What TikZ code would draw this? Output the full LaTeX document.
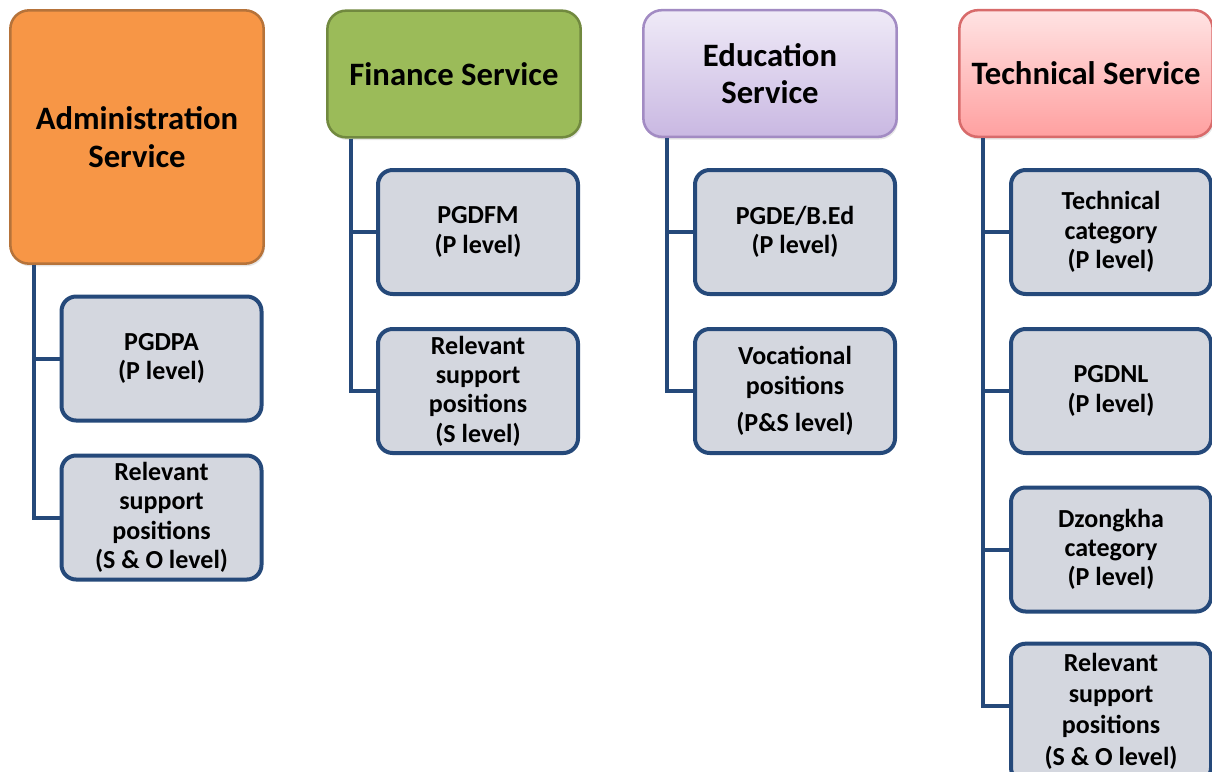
\documentclass[tikz,border=0pt]{standalone}
\usepackage{fontspec}
\setmainfont{Carlito}
\usetikzlibrary{calc,shadows}
\definecolor{admin}{HTML}{F79646}
\definecolor{adminline}{HTML}{B6733A}
\definecolor{finance}{HTML}{9BBB59}
\definecolor{financeline}{HTML}{71893F}
\definecolor{edutop}{HTML}{EFEAF7}
\definecolor{edubot}{HTML}{C9B8E2}
\definecolor{eduline}{HTML}{A28BC3}
\definecolor{techtop}{HTML}{FFE3E3}
\definecolor{techbot}{HTML}{FFA0A0}
\definecolor{techline}{HTML}{D86B6B}
\definecolor{post}{HTML}{D4D7DF}
\definecolor{postline}{HTML}{25497A}

\tikzset{
  head/.style={rectangle, rounded corners=14pt, line width=1.9pt,
    minimum width=190pt, minimum height=95pt, align=center,
    font=\fontsize{24.5}{28}\selectfont\bfseries,
    drop shadow={shadow xshift=1pt, shadow yshift=-2pt, opacity=0.2}},
  post/.style={rectangle, rounded corners=11pt, draw=postline, fill=post,
    line width=3pt, minimum width=150pt, minimum height=93pt, align=center,
    font=\fontsize{19.5}{22}\selectfont\bfseries},
  link/.style={draw=postline, line width=3pt}
}

\begin{document}
\begin{tikzpicture}[x=0.75pt,y=-0.75pt]
  \useasboundingbox (0,0) rectangle (1212,771);
  \clip (0,0) rectangle (1212,771);

  % Administration
  \node[head, draw=adminline, fill=admin, minimum height=190pt] (adm) at (137,137) {Administration\\Service};
  \node[post] (admA) at (161.5,358.5) {PGDPA\\(P level)};
  \node[post] (admB) at (161.5,517.5) {Relevant\\support\\positions\\(S \& O level)};
  \draw[link] ($(adm.south west)+(25,0)$) |- (admA.west);
  \draw[link] ($(adm.south west)+(25,0)$) |- (admB.west);

  % Finance
  \node[head, draw=financeline, fill=finance] (fin) at (454,74) {Finance Service};
  \node[post] (finA) at (478,232) {PGDFM\\(P level)};
  \node[post] (finB) at (478,391) {Relevant\\support\\positions\\(S level)};
  \draw[link] ($(fin.south west)+(25,0)$) |- (finA.west);
  \draw[link] ($(fin.south west)+(25,0)$) |- (finB.west);

  % Education
  \node[head, draw=eduline, top color=edutop, bottom color=edubot] (edu) at (770,73.5) {Education\\Service};
  \node[post] (eduA) at (795,232) {PGDE/B.Ed\\(P level)};
  \node[post] (eduB) at (795,391) {Vocational\\positions\\[6pt](P\&S level)};
  \draw[link] ($(edu.south west)+(25,0)$) |- (eduA.west);
  \draw[link] ($(edu.south west)+(25,0)$) |- (eduB.west);

  % Technical
  \node[head, draw=techline, top color=techtop, bottom color=techbot] (tec) at (1086,73.5) {Technical Service};
  \node[post] (tecA) at (1111,232) {Technical\\category\\(P level)};
  \node[post] (tecB) at (1111,391) {PGDNL\\(P level)};
  \node[post] (tecC) at (1111,549.5) {Dzongkha\\category\\(P level)};
  \node[post, minimum height=104pt, font=\fontsize{19.5}{23.5}\selectfont\bfseries,
    text depth=6pt] (tecD) at (1111,713) {Relevant\\support\\positions\\(S \& O level)};
  \foreach \n in {tecA,tecB,tecC}
    \draw[link] ($(tec.south west)+(25,0)$) |- (\n.west);
  \draw[link] ($(tec.south west)+(25,0)$) |- ($(tecD.north west)!0.45!(tecD.south west)$);
\end{tikzpicture}
\end{document}
